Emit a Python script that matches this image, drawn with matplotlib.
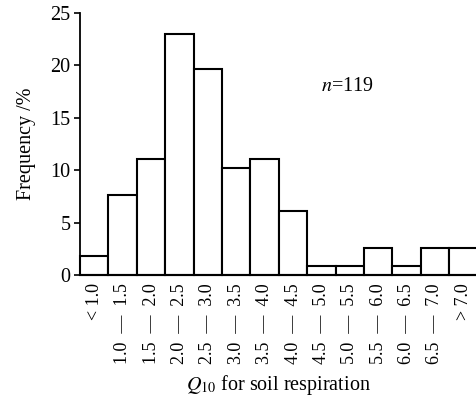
'''Histogram of Q10 for soil respiration'''

import matplotlib
matplotlib.use('Agg')
import matplotlib.pyplot as plt

plt.rcParams['font.family'] = ['Liberation Serif', 'DejaVu Serif']
plt.rcParams['mathtext.fontset'] = 'stix'

sep = '\u2002—\u2002'
classes = ['< 1.0', '1.0' + sep + '1.5', '1.5' + sep + '2.0', '2.0' + sep + '2.5',
           '2.5' + sep + '3.0', '3.0' + sep + '3.5', '3.5' + sep + '4.0',
           '4.0' + sep + '4.5', '4.5' + sep + '5.0', '5.0' + sep + '5.5',
           '5.5' + sep + '6.0', '6.0' + sep + '6.5', '6.5' + sep + '7.0', '> 7.0']
frequency = [1.8, 7.6, 11.1, 23.0, 19.6, 10.2, 11.1, 6.1, 0.86, 0.86,
             2.6, 0.86, 2.6, 2.6]
yticks = [0, 5, 10, 15, 20, 25]

fig = plt.figure(figsize=(4.76, 3.99), dpi=100)
ax = fig.add_axes([80 / 476, 124 / 399, 397.6 / 476, 262.3 / 399])

pos = list(range(len(classes)))
ax.bar(pos, frequency, width=1.0, color='white', edgecolor='black',
       linewidth=1.5, clip_on=False)

ax.set_xlim(-0.5, len(classes) - 0.5)
ax.set_ylim(0, 25)
ax.set_yticks(yticks)
ax.set_xticks(pos)
ax.set_xticklabels(classes, rotation=90, va='top', ha='center', fontsize=13)
ax.tick_params(axis='x', length=0, pad=6)
ax.tick_params(axis='y', direction='out', length=4, width=1.2, labelsize=14.5,
               pad=3)

for s in ['top', 'right']:
    ax.spines[s].set_visible(False)
ax.spines['left'].set_linewidth(1.3)
ax.spines['bottom'].set_linewidth(1.5)

ax.set_ylabel('Frequency /%', fontsize=14.5, labelpad=10)
ax.set_xlabel(r'$Q_{10}$ for soil respiration', fontsize=14.5, labelpad=6)
ax.text(8.9, 18.0, r'$n$=119', fontsize=14.5, ha='center', va='center')

fig.savefig('out.png', dpi=100)
